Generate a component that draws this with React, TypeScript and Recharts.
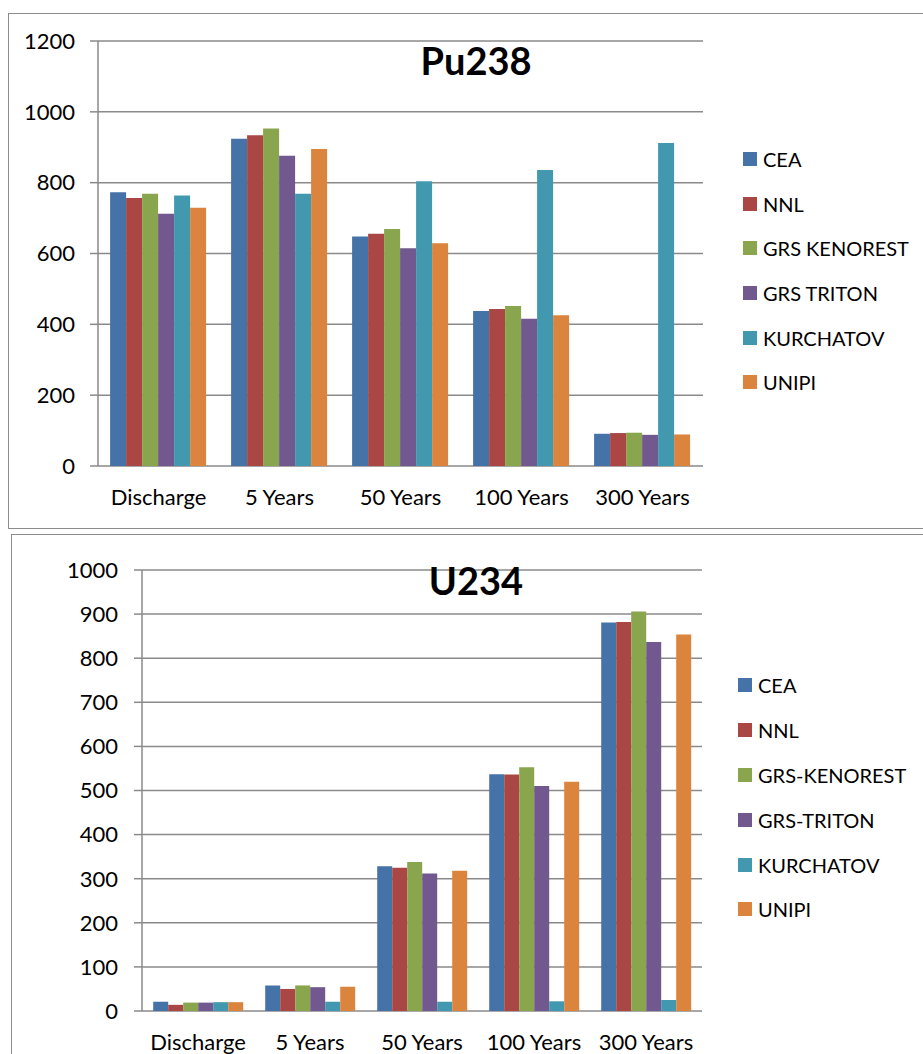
import * as React from "react";
import { Bar, BarChart, CartesianGrid, XAxis, YAxis } from "recharts";

const CATEGORIES = ["Discharge", "5 Years", "50 Years", "100 Years", "300 Years"];
const COLORS = ["#4572A7", "#AA4643", "#89A54E", "#71588F", "#4198AF", "#DB843D"];

const PU_NAMES = ["CEA", "NNL", "GRS KENOREST", "GRS TRITON", "KURCHATOV", "UNIPI"];
const PU_CEA = [773, 924, 648, 438, 91];
const PU_NNL = [757, 934, 656, 443, 93];
const PU_KENOREST = [769, 953, 669, 452, 94];
const PU_TRITON = [712, 876, 615, 416, 88];
const PU_KURCHATOV = [764, 769, 804, 836, 912];
const PU_UNIPI = [729, 895, 629, 426, 89];
const PU_TICKS = [0, 200, 400, 600, 800, 1000, 1200];

const U_NAMES = ["CEA", "NNL", "GRS-KENOREST", "GRS-TRITON", "KURCHATOV", "UNIPI"];
const U_CEA = [21, 58, 328, 537, 881];
const U_NNL = [14, 50, 325, 536, 882];
const U_KENOREST = [19, 58, 338, 553, 906];
const U_TRITON = [19, 54, 312, 510, 837];
const U_KURCHATOV = [20, 21, 21, 22, 25];
const U_UNIPI = [20, 55, 318, 520, 854];
const U_TICKS = [0, 100, 200, 300, 400, 500, 600, 700, 800, 900, 1000];

const FONT = "Lato, 'Noto Sans', sans-serif";
const LINE = "#8a8a8a";
const EDGE_TICKS = CATEGORIES.map((_, i) => i).concat(CATEGORIES.length);

function buildRows(series: number[][]) {
  return CATEGORIES.map((name, i) => {
    const row: Record<string, string | number> = { name };
    series.forEach((s, k) => {
      row[`s${k}`] = s[i];
    });
    return row;
  });
}

type PanelProps = {
  title: string;
  names: string[];
  series: number[][];
  ticks: number[];
  box: { left: number; top: number; height: number };
  chart: { width: number; height: number };
  margin: { top: number; right: number; left: number; bottom: number };
  tickGap: number;
  labelGap: number;
  titleTop: number;
  legend: { left: number; top: number; step: number };
};

function Panel(p: PanelProps) {
  const rows = buildRows(p.series);
  const max = p.ticks[p.ticks.length - 1];
  return (
    <>
      <div
        style={{
          position: "absolute",
          left: p.box.left,
          top: p.box.top,
          width: 960,
          height: p.box.height,
          border: "1.5px solid #8c8c8c",
          boxSizing: "border-box"
        }}
      />
      <div style={{ position: "absolute", left: p.box.left, top: p.box.top }}>
        <BarChart
          width={p.chart.width}
          height={p.chart.height}
          data={rows}
          margin={p.margin}
          barCategoryGap="10%"
          barGap={0}
        >
          <CartesianGrid
            xAxisId="cat"
            vertical={false}
            stroke={LINE}
            strokeWidth={1.5}
          />
          <XAxis
            xAxisId="edge"
            type="number"
            domain={[0, CATEGORIES.length]}
            ticks={EDGE_TICKS}
            tick={false}
            tickSize={7}
            height={0}
            stroke={LINE}
            strokeWidth={1.5}
            allowDataOverflow
          />
          <XAxis
            xAxisId="cat"
            dataKey="name"
            height={50}
            axisLine={false}
            tickLine={false}
            tickSize={0}
            tickMargin={p.labelGap}
            interval={0}
            tick={{ fill: "#000", fontSize: 22, fontFamily: FONT }}
          />
          <YAxis
            width={60}
            domain={[0, max]}
            ticks={p.ticks}
            interval={0}
            stroke={LINE}
            strokeWidth={1.5}
            tickSize={8}
            tickMargin={p.tickGap}
            tick={{ fill: "#000", fontSize: 22, fontFamily: FONT }}
          />
          {p.names.map((n, k) => (
            <Bar
              key={n}
              xAxisId="cat"
              dataKey={`s${k}`}
              name={n}
              fill={COLORS[k]}
              isAnimationActive={false}
            />
          ))}
        </BarChart>
      </div>
      <div
        style={{
          position: "absolute",
          left: 376,
          width: 200,
          top: p.titleTop,
          textAlign: "center",
          fontFamily: FONT,
          fontWeight: 700,
          fontSize: 38,
          lineHeight: "38px",
          color: "#000"
        }}
      >
        {p.title}
      </div>
      <div style={{ position: "absolute", left: p.legend.left, top: p.legend.top }}>
        {p.names.map((n, k) => (
          <div
            key={n}
            style={{
              display: "flex",
              alignItems: "center",
              height: p.legend.step,
              fontFamily: FONT,
              fontSize: 20,
              color: "#000",
              whiteSpace: "nowrap"
            }}
          >
            <span
              style={{
                display: "inline-block",
                width: 14,
                height: 14,
                background: COLORS[k],
                marginRight: 6
              }}
            />
            {n}
          </div>
        ))}
      </div>
    </>
  );
}

export default function App() {
  return (
    <div
      style={{
        position: "absolute",
        left: 0,
        top: 0,
        width: 923,
        height: 1054,
        background: "#fff",
        overflow: "hidden"
      }}
    >
      <Panel
        title="Pu238"
        names={PU_NAMES}
        series={[PU_CEA, PU_NNL, PU_KENOREST, PU_TRITON, PU_KURCHATOV, PU_UNIPI]}
        ticks={PU_TICKS}
        box={{ left: 8, top: 13, height: 516 }}
        chart={{ width: 915, height: 516 }}
        margin={{ top: 28, right: 220, left: 30, bottom: 13 }}
        tickGap={15}
        labelGap={23}
        titleTop={41}
        legend={{ left: 743, top: 137, step: 44.6 }}
      />
      <Panel
        title="U234"
        names={U_NAMES}
        series={[U_CEA, U_NNL, U_KENOREST, U_TRITON, U_KURCHATOV, U_UNIPI]}
        ticks={U_TICKS}
        box={{ left: 11, top: 534, height: 560 }}
        chart={{ width: 912, height: 540 }}
        margin={{ top: 36, right: 221, left: 71, bottom: 13 }}
        tickGap={16}
        labelGap={23}
        titleTop={561}
        legend={{ left: 738, top: 663, step: 44.8 }}
      />
    </div>
  );
}
